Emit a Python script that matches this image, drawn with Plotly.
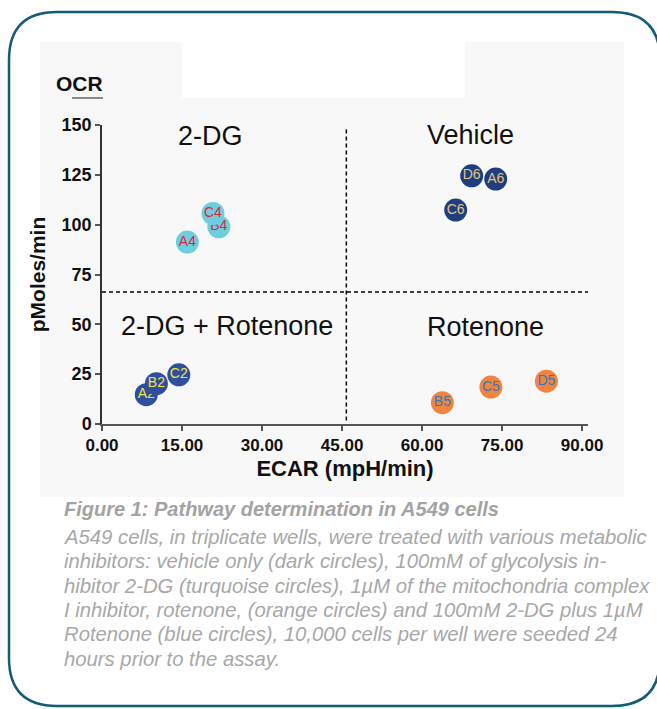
import plotly.graph_objects as go

# ---------------- data ----------------
vehicle_labels = ["C6", "D6", "A6"]
vehicle_ecar = [66.3, 69.3, 73.8]
vehicle_ocr = [107.3, 124.5, 122.9]

dg_labels = ["A4", "B4", "C4"]
dg_ecar = [16.0, 21.9, 20.8]
dg_ocr = [91.3, 98.9, 105.6]

rot_labels = ["B5", "C5", "D5"]
rot_ecar = [63.8, 72.9, 83.3]
rot_ocr = [10.7, 18.5, 21.5]

dgrot_labels = ["A2", "B2", "C2"]
dgrot_ecar = [8.3, 10.2, 14.4]
dgrot_ocr = [14.7, 20.2, 24.7]

ecar_threshold = 45.8
ocr_threshold = 66.2

x_ticks = [0, 15, 30, 45, 60, 75, 90]
y_ticks = [0, 25, 50, 75, 100, 125, 150]

quadrant_names = ["2-DG", "Vehicle", "2-DG + Rotenone", "Rotenone"]

caption_title = "Figure 1: Pathway determination in A549 cells"
caption_lines = [
    "A549 cells, in triplicate wells, were treated with various metabolic",
    "inhibitors: vehicle only (dark circles), 100mM of glycolysis in-",
    "hibitor 2-DG (turquoise circles), 1µM of the mitochondria complex",
    "I inhibitor, rotenone, (orange circles) and 100mM 2-DG plus 1µM",
    "Rotenone (blue circles), 10,000 cells per well were seeded 24",
    "hours prior to the assay.",
]

# ---------------- layout geometry ----------------
W, H = 657, 709
ML, MR, MT, MB = 102, 69, 125, 285
PW = W - ML - MR
PH = H - MT - MB
X_MAX = 91.1
FONT = "Arial, Liberation Sans, sans-serif"


def px2x(px):
    return (px - ML) / PW


def py2y(py):
    return (H - MB - py) / PH


fig = go.Figure()

groups = [
    (dgrot_labels, dgrot_ecar, dgrot_ocr, "#2e4ea0", "#f2e636"),
    (dg_labels, dg_ecar, dg_ocr, "#6dcfde", "#e4203c"),
    (rot_labels, rot_ecar, rot_ocr, "#f28442", "#2a7dbf"),
    (vehicle_labels, vehicle_ecar, vehicle_ocr, "#1d3f80", "#e8c27e"),
]
for labels, xs, ys, mcol, tcol in groups:
    for lab, xv, yv in zip(labels, xs, ys):
        fig.add_trace(go.Scatter(
            x=[xv], y=[yv], mode="markers+text", text=[lab],
            textposition="middle center",
            textfont=dict(family=FONT, size=14, color=tcol),
            marker=dict(size=23, color=mcol, line=dict(width=0)),
            showlegend=False, hoverinfo="skip", cliponaxis=False,
        ))

# threshold lines
fig.add_shape(type="line", xref="x", yref="y", x0=0, x1=X_MAX,
              y0=ocr_threshold, y1=ocr_threshold,
              line=dict(color="black", width=1.5, dash="4px,3px"))
fig.add_shape(type="line", xref="x", yref="y", x0=ecar_threshold, x1=ecar_threshold,
              y0=1.8, y1=148.5,
              line=dict(color="black", width=1.5, dash="4px,3px"))

# background panel
fig.add_shape(type="rect", xref="paper", yref="paper", layer="below",
              x0=px2x(40), x1=px2x(624), y0=py2y(497), y1=py2y(42),
              line=dict(width=0), fillcolor="#f8f8f8")
fig.add_shape(type="rect", xref="paper", yref="paper", layer="below",
              x0=px2x(182), x1=px2x(465), y0=py2y(98), y1=py2y(42),
              line=dict(width=0), fillcolor="#ffffff")

# rounded border (right edge falls just outside the picture)
L, R, T, B, RAD = 9, 660, 12, 706, 48
pts = (
    f"M {px2x(L)},{py2y(T + RAD)} "
    f"Q {px2x(L)},{py2y(T)} {px2x(L + RAD)},{py2y(T)} "
    f"L {px2x(R - RAD)},{py2y(T)} "
    f"Q {px2x(R)},{py2y(T)} {px2x(R)},{py2y(T + RAD)} "
    f"L {px2x(R)},{py2y(B - RAD)} "
    f"Q {px2x(R)},{py2y(B)} {px2x(R - RAD)},{py2y(B)} "
    f"L {px2x(L + RAD)},{py2y(B)} "
    f"Q {px2x(L)},{py2y(B)} {px2x(L)},{py2y(B - RAD)} Z"
)
fig.add_shape(type="path", xref="paper", yref="paper", path=pts,
              line=dict(color="#145b78", width=2.5), fillcolor="rgba(0,0,0,0)")

# quadrant labels
q_pos = [(210, 136), (470, 135), (227, 326), (485, 327)]
for name, (qx, qy) in zip(quadrant_names, q_pos):
    fig.add_annotation(xref="paper", yref="paper", x=px2x(qx), y=py2y(qy),
                       text=name, showarrow=False, xanchor="center", yanchor="middle",
                       font=dict(family=FONT, size=27, color="#111111"))

# OCR label with underline
fig.add_annotation(xref="paper", yref="paper", x=px2x(79), y=py2y(83),
                   text="<b>OCR</b>", showarrow=False, xanchor="center", yanchor="middle",
                   font=dict(family=FONT, size=21, color="#111111"))
fig.add_shape(type="line", xref="paper", yref="paper",
              x0=px2x(72), x1=px2x(103), y0=py2y(98), y1=py2y(98),
              line=dict(color="#666666", width=1.5))

# caption
fig.add_annotation(xref="paper", yref="paper", x=px2x(62), y=py2y(509),
                   text=f"<b><i>{caption_title}</i></b>", showarrow=False,
                   xanchor="left", yanchor="middle",
                   font=dict(family=FONT, size=20, color="#a3a3a3"))
for i, line in enumerate(caption_lines):
    fig.add_annotation(xref="paper", yref="paper", x=px2x(62), y=py2y(537 + i * 24.3),
                       text=f"<i>{line}</i>", showarrow=False,
                       xanchor="left", yanchor="middle",
                       font=dict(family=FONT, size=20.3, color="#a8a8a8"))

fig.update_layout(
    width=W, height=H,
    margin=dict(l=ML, r=MR, t=MT, b=MB, pad=0),
    paper_bgcolor="white", plot_bgcolor="rgba(0,0,0,0)",
    font=dict(family=FONT, color="#111111"),
    xaxis=dict(range=[0, X_MAX], tickvals=x_ticks,
               ticktext=[f"<b>{v:.2f}</b>" for v in x_ticks],
               showgrid=False, zeroline=False, showline=True, linecolor="#555555", linewidth=1.5,
               ticks="outside", ticklen=5, tickcolor="#555555", tickwidth=1.5,
               tickfont=dict(family=FONT, size=17, color="#111111"),
               title=dict(text="<b>ECAR (mpH/min)</b>", standoff=6,
                          font=dict(family=FONT, size=22, color="#111111"))),
    yaxis=dict(range=[0, 150], tickvals=y_ticks,
               ticktext=[f"<b>{v}</b>" for v in y_ticks],
               showgrid=False, zeroline=False, showline=True, linecolor="#333333", linewidth=1.5,
               ticks="outside", ticklen=5, tickcolor="#555555", tickwidth=1.5,
               tickfont=dict(family=FONT, size=18, color="#111111"),
               title=dict(text="<b>pMoles/min</b>", standoff=10,
                          font=dict(family=FONT, size=21, color="#111111"))),
)

fig.write_html("out.html", config={"displayModeBar": False},
               post_script="document.body.style.margin='0';")
